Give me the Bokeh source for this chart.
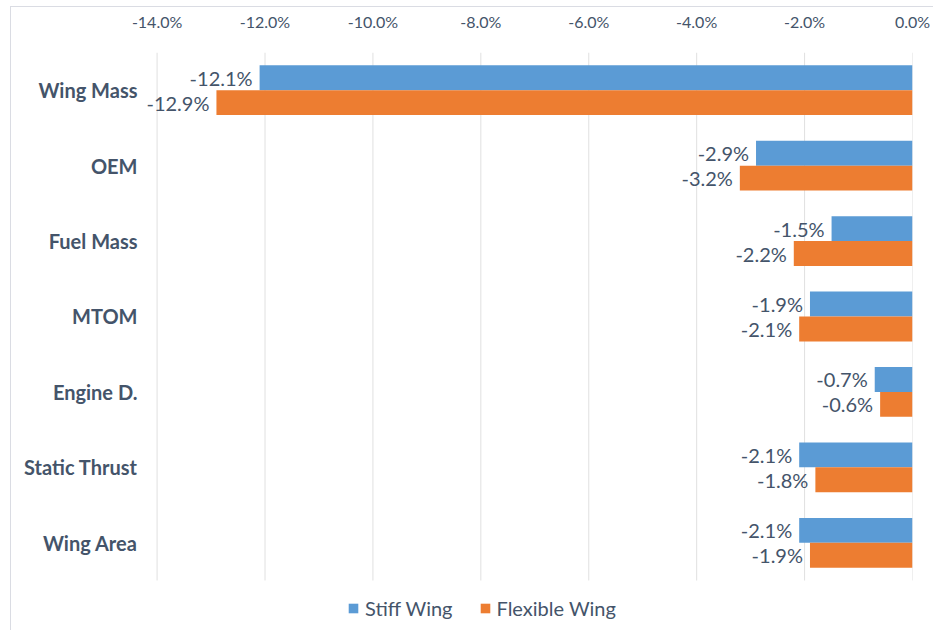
from bokeh.plotting import figure
from bokeh.models import (ColumnDataSource, Range1d, NumeralTickFormatter,
                          Legend, LegendItem, FixedTicker)
from bokeh.transform import dodge
from bokeh.core.properties import value
from bokeh.embed import file_html
from bokeh.resources import INLINE

categories = ["Wing Mass", "OEM", "Fuel Mass", "MTOM", "Engine D.", "Static Thrust", "Wing Area"]
stiff = [-12.1, -2.9, -1.5, -1.9, -0.7, -2.1, -2.1]
flexible = [-12.9, -3.2, -2.2, -2.1, -0.6, -1.8, -1.9]
series_names = ["Stiff Wing", "Flexible Wing"]
x_ticks = [-14, -12, -10, -8, -6, -4, -2, 0]

BLUE = "#5B9BD5"
ORANGE = "#ED7D31"
TXT = "#44546A"
GRID = "#E0E0E0"
FONT = "Lato"

n = len(categories)
ypos = [n - 1 - i for i in range(n)]  # first category on top

src = ColumnDataSource(dict(
    y=ypos,
    stiff=[v / 100 for v in stiff],
    flex=[v / 100 for v in flexible],
    stiff_lbl=[f"{v:.1f}%" for v in stiff],
    flex_lbl=[f"{v:.1f}%" for v in flexible],
))
grid_src = ColumnDataSource(dict(
    x=[t / 100 for t in x_ticks],
    y0=[-0.5] * len(x_ticks),
    y1=[n - 0.5] * len(x_ticks),
))

p = figure(frame_width=777, frame_height=578, output_backend="svg", toolbar_location=None,
           x_range=Range1d(-0.144, x_ticks[-1] / 100),
           y_range=Range1d(-1.163, n - 0.5),
           x_axis_location="above",
           min_border_left=124, min_border_right=21, min_border_top=45, min_border_bottom=0)
p.styles = {"margin-left": "10px", "margin-top": "6px",
            "border-left": "1px solid #DADCE3", "border-top": "1px solid #DADCE3"}
p.outline_line_color = None
p.background_fill_color = "white"
p.border_fill_color = "white"
p.xgrid.grid_line_color = None
p.ygrid.grid_line_color = None

# vertical gridlines limited to the category band
p.segment(x0="x", x1="x", y0="y0", y1="y1", source=grid_src, line_color=GRID, line_width=1)

h = 0.33
r1 = p.hbar(y=dodge("y", h / 2), left=0, right="stiff", height=h,
            source=src, fill_color=BLUE, line_color=None)
r2 = p.hbar(y=dodge("y", -h / 2), left=0, right="flex", height=h,
            source=src, fill_color=ORANGE, line_color=None)

p.text(x="stiff", y=dodge("y", h / 2), text="stiff_lbl", source=src,
       text_align="right", text_baseline="middle", x_offset=-7,
       text_font=value(FONT), text_font_size="20px", text_color=TXT)
p.text(x="flex", y=dodge("y", -h / 2), text="flex_lbl", source=src,
       text_align="right", text_baseline="middle", x_offset=-7,
       text_font=value(FONT), text_font_size="20px", text_color=TXT)

p.xaxis.ticker = FixedTicker(ticks=[t / 100 for t in x_ticks])
p.xaxis.formatter = NumeralTickFormatter(format="0.0%")
p.xaxis.axis_line_color = None
p.xaxis.major_tick_line_color = None
p.xaxis.minor_tick_line_color = None
p.xaxis.major_label_text_font = FONT
p.xaxis.major_label_text_font_size = "16px"
p.xaxis.major_label_text_color = TXT
p.xaxis.major_label_standoff = 16

p.yaxis.ticker = FixedTicker(ticks=ypos)
p.yaxis.major_label_overrides = {y: c for y, c in zip(ypos, categories)}
p.yaxis.axis_line_color = None
p.yaxis.major_tick_line_color = None
p.yaxis.minor_tick_line_color = None
p.yaxis.major_label_text_font = FONT
p.yaxis.major_label_text_font_size = "20px"
p.yaxis.major_label_text_font_style = "bold"
p.yaxis.major_label_text_color = TXT
p.yaxis.major_label_standoff = -8

legend = Legend(items=[LegendItem(label=series_names[0], renderers=[r1]),
                       LegendItem(label=series_names[1], renderers=[r2])],
                orientation="horizontal", location=(212, 10),
                label_text_font=FONT, label_text_font_size="20px", label_text_color=TXT,
                glyph_width=12, glyph_height=12, spacing=26, label_standoff=6,
                border_line_color=None, background_fill_alpha=0, margin=0, padding=4)
p.add_layout(legend, "center")

open("out.html", "w").write(file_html(p, INLINE))
